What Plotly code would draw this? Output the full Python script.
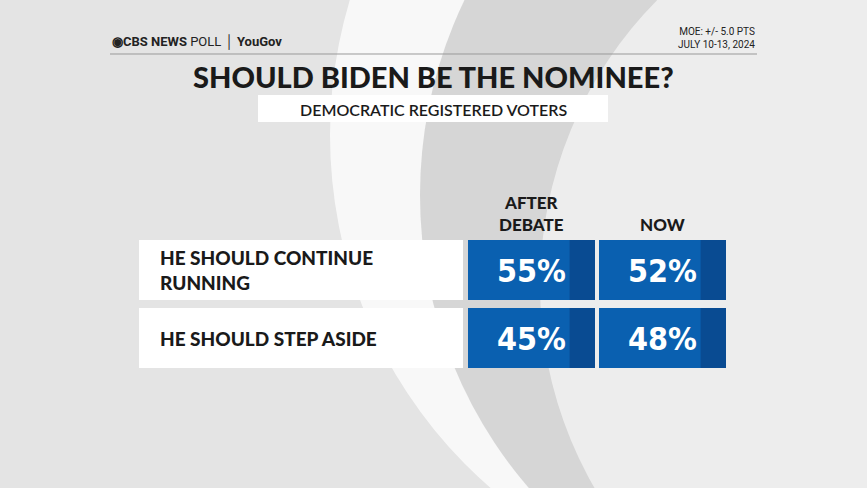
import plotly.graph_objects as go

# data
rows = ["HE SHOULD CONTINUE<br>RUNNING", "HE SHOULD STEP ASIDE"]
columns = ["AFTER<br>DEBATE", "NOW"]
after_debate = [55, 45]
now = [52, 48]
values = [after_debate, now]

W, H = 867, 488
fig = go.Figure()

shapes = []
annotations = []

# background arcs (decorative)
shapes.append(dict(type="circle", xref="x", yref="y", x0=330, y0=-330, x1=1250, y1=600,
                   fillcolor="rgba(255,255,255,0.75)", line=dict(width=0), layer="below"))
shapes.append(dict(type="circle", xref="x", yref="y", x0=420, y0=-250, x1=1300, y1=640,
                   fillcolor="rgba(205,205,205,0.8)", line=dict(width=0), layer="below"))
shapes.append(dict(type="circle", xref="x", yref="y", x0=540, y0=-120, x1=1350, y1=690,
                   fillcolor="rgba(240,240,240,0.9)", line=dict(width=0), layer="below"))

# header
annotations.append(dict(x=110, y=42, text="<b>◉CBS NEWS</b> POLL │ <b>YouGov</b>", showarrow=False,
                        xanchor="left", font=dict(family="Roboto", size=13, color="#222")))
annotations.append(dict(x=757, y=38, text="MOE: +/- 5.0 PTS<br>JULY 10-13, 2024", showarrow=False,
                        xanchor="right", align="right", font=dict(family="Roboto", size=10, color="#222")))
shapes.append(dict(type="line", x0=110, x1=757, y0=54, y1=54, line=dict(color="#999", width=1)))
annotations.append(dict(x=433, y=76, text="SHOULD BIDEN BE THE NOMINEE?", showarrow=False,
                        font=dict(family="Lato", size=29, color="#1a1a1a", weight=900)))
shapes.append(dict(type="rect", x0=258, x1=608, y0=95, y1=122, fillcolor="white", line=dict(width=0)))
annotations.append(dict(x=433, y=109, text="DEMOCRATIC REGISTERED VOTERS", showarrow=False,
                        font=dict(family="Lato", size=16, color="#1a1a1a", weight=600)))

# table
row_y0, row_h, row_gap = 240, 60, 8
label_x0, label_x1 = 139, 463
col_x0, col_w, col_gap = 468, 127, 4

for j, col in enumerate(columns):
    cx = col_x0 + j * (col_w + col_gap) + col_w / 2
    annotations.append(dict(x=cx, y=237, yanchor="bottom", text=col, showarrow=False,
                            font=dict(family="Lato", size=17, color="#1a1a1a", weight=900)))

for i, row in enumerate(rows):
    y0 = row_y0 + i * (row_h + row_gap)
    shapes.append(dict(type="rect", x0=label_x0, x1=label_x1, y0=y0, y1=y0 + row_h,
                       fillcolor="white", line=dict(width=0)))
    annotations.append(dict(x=label_x0 + 19, y=y0 + row_h / 2, text=row, showarrow=False,
                            xanchor="left", align="left",
                            font=dict(family="Lato", size=19, color="#1a1a1a", weight=900)))
    for j in range(len(columns)):
        x0 = col_x0 + j * (col_w + col_gap)
        shapes.append(dict(type="rect", x0=x0, x1=x0 + col_w, y0=y0, y1=y0 + row_h,
                           fillcolor="#0a60b0", line=dict(width=0)))
        shapes.append(dict(type="rect", x0=x0 + col_w * 0.8, x1=x0 + col_w, y0=y0, y1=y0 + row_h,
                           fillcolor="rgba(8,50,110,0.45)", line=dict(width=0)))
        annotations.append(dict(x=x0 + col_w / 2, y=y0 + row_h / 2 + 1, text="<b>%d%%</b>" % values[j][i],
                                showarrow=False,
                                font=dict(family="DejaVu Sans Condensed, Roboto", size=32,
                                          color="white")))

fig.update_layout(
    width=W, height=H,
    margin=dict(l=0, r=0, t=0, b=0),
    paper_bgcolor="#e4e4e4", plot_bgcolor="#e4e4e4",
    xaxis=dict(range=[0, W], visible=False, fixedrange=True),
    yaxis=dict(range=[H, 0], visible=False, fixedrange=True),
    shapes=shapes, annotations=annotations, showlegend=False,
)

fig.write_html("out.html", config={"displayModeBar": False},
               post_script="document.body.style.margin='0';document.body.style.overflow='hidden';")
